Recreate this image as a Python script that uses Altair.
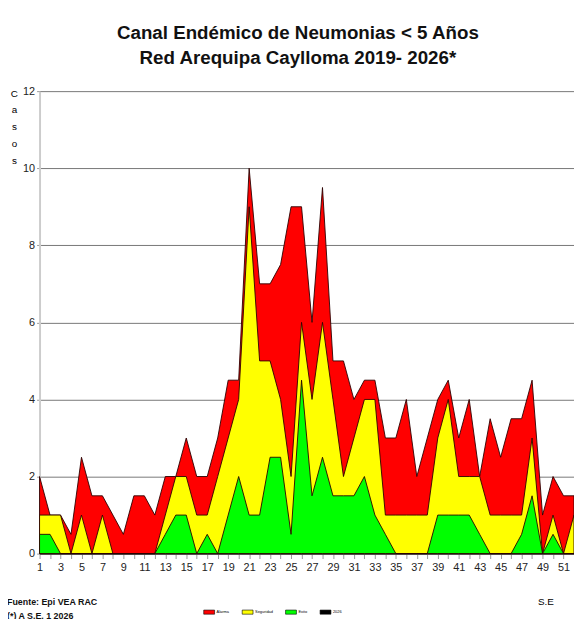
import altair as alt
import pandas as pd

semanas = list(range(1, 53))
alarma = [2, 1, 1, 0.5, 2.5, 1.5, 1.5, 1, 0.5, 1.5,
          1.5, 1, 2, 2, 3, 2, 2, 3, 4.5, 4.5,
          10, 7, 7, 7.5, 9, 9, 6, 9.5, 5, 5,
          4, 4.5, 4.5, 3, 3, 4, 2, 3, 4, 4.5,
          3, 4, 2, 3.5, 2.5, 3.5, 3.5, 4.5, 1, 2,
          1.5, 1.5]
seguridad = [1, 1, 1, 0, 1, 0, 1, 0, 0, 0,
             0, 0, 1, 2, 2, 1, 1, 2, 3, 4,
             9, 5, 5, 4, 2, 6, 4, 6, 4, 2,
             3, 4, 4, 1, 1, 1, 1, 1, 3, 4,
             2, 2, 2, 1, 1, 1, 1, 3, 0, 1,
             0, 1]
exito = [0.5, 0.5, 0, 0, 0, 0, 0, 0, 0, 0,
         0, 0, 0.5, 1, 1, 0, 0.5, 0, 1, 2,
         1, 1, 2.5, 2.5, 0.5, 4.5, 1.5, 2.5, 1.5, 1.5,
         1.5, 2, 1, 0.5, 0, 0, 0, 0, 1, 1,
         1, 1, 0.5, 0, 0, 0, 0.5, 1.5, 0, 0.5,
         0, 0]
series = ["Alarma", "Seguridad", "Exito", "2026"]
colores = ["#FF0000", "#FFFF00", "#00FF00", "#000000"]
y_ticks = [0, 2, 4, 6, 8, 10, 12]

rows = []
for nombre, valores in [("Alarma", alarma), ("Seguridad", seguridad), ("Exito", exito)]:
    for s, v in zip(semanas, valores):
        rows.append({"semana": s, "serie": nombre, "casos": v})
df = pd.DataFrame(rows)

FONT = "Liberation Sans Narrow, Arial Narrow, Liberation Sans, sans-serif"
W, H = 542, 469

color = alt.Color(
    "serie:N",
    scale=alt.Scale(domain=series, range=colores),
    legend=alt.Legend(
        orient="none", legendX=166, legendY=522, direction="horizontal",
        title=None, symbolType="M-1,-0.38H1V0.38H-1Z", symbolSize=121,
        symbolStrokeColor="black", symbolStrokeWidth=0.6, symbolOpacity=1,
        labelFontSize=4, labelOffset=1.5, columnPadding=11, padding=0,
        labelFont=FONT,
    ),
)

x = alt.X(
    "semana:Q",
    scale=alt.Scale(domain=[1, 52], nice=False, zero=False),
    axis=alt.Axis(
        values=semanas,
        labelExpr="datum.value % 2 == 1 ? datum.label : ''",
        grid=False, tickColor="#999999", tickSize=5, domainColor="#333333",
        labelFontSize=11, labelFont=FONT, labelPadding=3, labelColor="#222222",
        title="S.E", titleX=513, titleY=49, titleFontSize=10, titleFont=FONT,
        titleFontWeight="normal", titleAlign="center", titleBaseline="middle",
        labelFlush=False,
    ),
)
y = alt.Y(
    "casos:Q",
    scale=alt.Scale(domain=[0, 12], nice=False),
    axis=alt.Axis(
        values=y_ticks, grid=True, gridColor="#777777", gridWidth=1,
        domainColor="#cccccc", domainWidth=2, tickColor="#999999", tickSize=3,
        labelFontSize=11, labelFont=FONT, labelPadding=2, labelColor="#222222",
        title=["C", "a", "s", "o", "s"], titleAngle=0, titleX=-26, titleY=-3,
        titleAlign="center", titleBaseline="top", titleLineHeight=17,
        titleFontSize=10, titleFont=FONT, titleFontWeight="normal",
    ),
)

base = alt.Chart(df)
capas = []
for nombre in ["Alarma", "Seguridad", "Exito"]:
    capas.append(
        base.transform_filter(alt.datum.serie == nombre)
        .mark_area(stroke="#2a0000", strokeWidth=0.9, opacity=1)
        .encode(x=x, y=y, color=color)
    )

fuente = alt.Chart(pd.DataFrame({"t": ["Fuente: Epi VEA RAC\n(*) A S.E. 1 2026"]})).mark_text(
    align="left", baseline="alphabetic", font=FONT, fontSize=9, fontWeight="bold",
    lineBreak="\n", lineHeight=14, color="#111111",
).encode(x=alt.value(-33), y=alt.value(H + 52), text="t:N")

chart = alt.layer(*capas, fuente).properties(
    width=W, height=H,
    autosize=alt.AutoSizeParams(type="none"),
    padding={"left": 32, "top": 80, "right": 0, "bottom": 62},
    title=alt.TitleParams(
        ["Canal Endémico de Neumonias < 5 Años", "Red Arequipa Caylloma 2019- 2026*"],
        font=FONT, fontSize=19, fontWeight="bold", anchor="middle", dx=-9,
        lineHeight=25, offset=18, color="#111111",
    ),
).configure_view(strokeWidth=0)

chart.save("out.html", embed_options={"renderer": "svg", "actions": False})
